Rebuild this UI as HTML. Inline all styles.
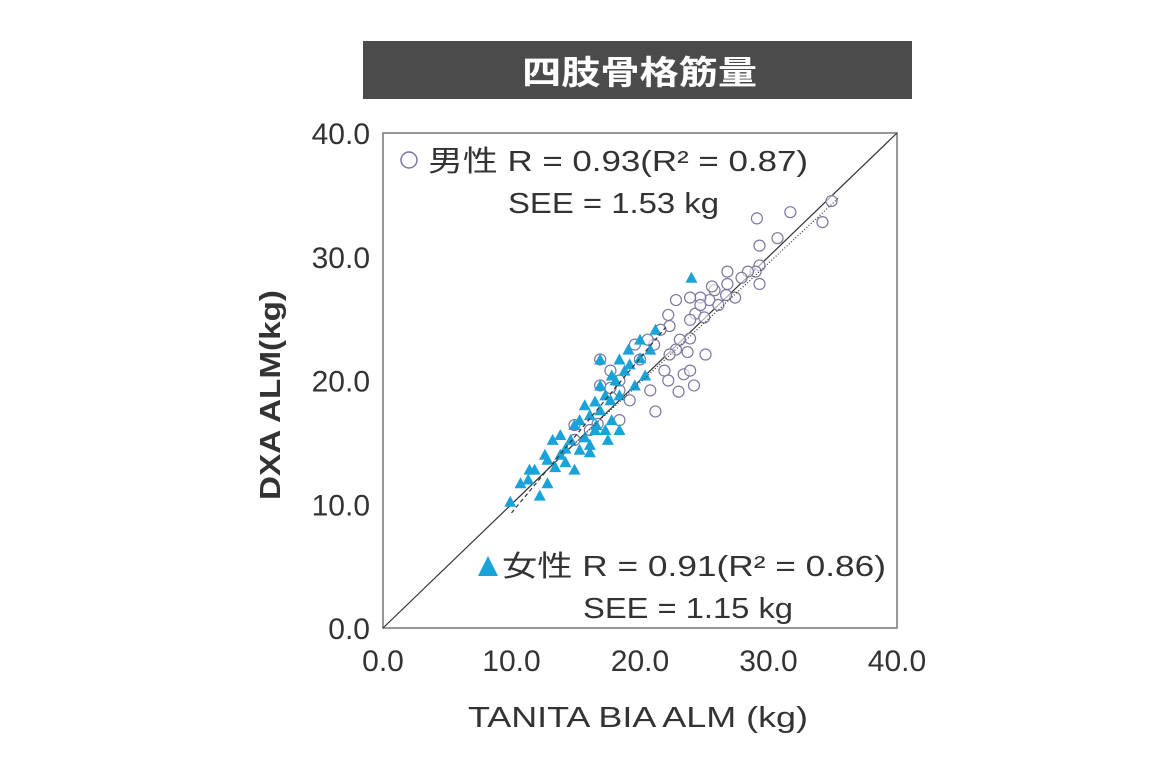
<!DOCTYPE html>
<html><head><meta charset="utf-8"><style>
body{margin:0;background:#fff;width:1160px;height:774px;overflow:hidden;font-family:"Liberation Sans","Noto Sans CJK JP",sans-serif}
</style></head><body>
<svg width="1160" height="774" viewBox="0 0 1160 774" font-family="Liberation Sans, Noto Sans CJK JP, sans-serif">
<rect x="363" y="41" width="549" height="58" fill="#4b4b4b"/>
<text x="522" y="84" textLength="235" lengthAdjust="spacingAndGlyphs" fill="#fff" font-size="33" font-weight="bold">四肢骨格筋量</text>
<rect x="383" y="133" width="514" height="495" fill="none" stroke="#777" stroke-width="1.5"/>
<g id="axes"></g>
<g id="lines"></g>
<g id="marks"></g>
<text x="280" y="500" textLength="210" lengthAdjust="spacingAndGlyphs" transform="rotate(-90 280 500)" font-size="29" fill="#333" font-weight="bold">DXA ALM(kg)</text>
<text x="468" y="727" textLength="340" lengthAdjust="spacingAndGlyphs" font-size="29" fill="#333">TANITA BIA ALM (kg)</text>
<g>
<circle cx="409" cy="160" r="8" fill="#fff" stroke="#7a78a0" stroke-width="1.5"/>
<text x="428" y="171" textLength="380" lengthAdjust="spacingAndGlyphs" font-size="29" fill="#333">男性  R = 0.93(R² = 0.87)</text>
<text x="508" y="213" textLength="211" lengthAdjust="spacingAndGlyphs" font-size="29" fill="#333">SEE = 1.53 kg</text>
</g>
<g>
<polygon points="488,556 478,576 498,576" fill="#1aa3d9"/>
<text x="502" y="576" textLength="384" lengthAdjust="spacingAndGlyphs" font-size="29" fill="#333">女性  R = 0.91(R² = 0.86)</text>
<text x="583" y="618" textLength="210" lengthAdjust="spacingAndGlyphs" font-size="29" fill="#333">SEE = 1.15 kg</text>
</g>
</svg>
<script>
const ticks=[0,10,20,30,40];
const tickLabels=["0.0","10.0","20.0","30.0","40.0"];
const maleX=[34.9,34.2,31.7,29.1,30.7,29.3,29.3,29.0,28.4,27.9,26.8,26.8,27.4,25.8,25.4,24.7,24.3,23.9,22.8,22.2,22.3,21.6,21.1,23.9,23.7,25.1,22.8,23.4,23.9,21.9,22.2,20.8,23.0,24.2,21.2,19.2,18.4,17.7,16.9,18.4,17.7,16.9,20.0,19.6,20.6,16.7,16.1,18.4,14.9,14.9,29.3,26.7,25.6,25.0,23.9,23.1,22.3,24.7,26.1];
const maleY=[34.5,32.8,33.6,33.1,31.5,30.9,29.3,28.8,28.8,28.3,28.8,27.8,26.7,27.3,26.5,26.7,25.4,26.7,26.5,25.3,24.4,24.1,22.9,23.4,22.3,22.1,22.5,20.5,20.8,20.8,20.0,19.2,19.1,19.6,17.5,18.4,19.2,19.4,19.6,20.0,20.8,21.7,21.7,22.9,23.3,16.5,16.0,16.8,16.4,15.2,27.8,26.9,27.6,25.1,24.9,23.3,22.1,26.1,26.1];
const femaleX=[9.9,10.7,11.8,12.2,12.8,13.4,12.8,13.8,14.6,14.9,14.2,15.3,15.7,16.1,16.5,15.3,16.1,16.9,16.6,17.3,17.8,18.4,17.7,16.9,18.1,18.8,19.2,20.0,20.8,21.2,20.0,18.4,17.3,16.5,15.7,14.9,13.8,12.6,11.4,11.3,16.9,17.8,19.6,20.4,24.0,19.1,18.4,17.5,16.1,14.2,13.2];
const femaleY=[10.2,11.7,12.8,10.7,11.7,13.0,13.6,14.0,15.2,12.8,14.5,14.4,15.4,14.8,16.0,16.8,17.2,17.6,16.4,16.0,16.8,16.0,18.4,19.6,20.0,20.8,21.3,21.8,22.5,24.1,23.3,18.8,18.8,18.3,18.0,16.4,15.6,14.0,12.8,12.0,21.7,20.4,19.6,20.4,28.3,22.5,21.7,15.2,14.2,13.4,15.2];
const identityLine=[0,40];
const maleFit=[[14.5,14.5],[35.5,34.8]];
const femaleFit=[[10,9.3],[22,24.3]];
const NS="http://www.w3.org/2000/svg";
const sx=v=>383+v*514/40, sy=v=>628-v*495/40;
function mk(tag,attrs,parent){const e=document.createElementNS(NS,tag);for(const k in attrs)e.setAttribute(k,attrs[k]);document.getElementById(parent).appendChild(e);return e;}
ticks.forEach((t,i)=>{
 let a=mk('text',{x:370,y:sy(t)+11,'text-anchor':'end','font-size':30,fill:'#333'},'axes');a.textContent=tickLabels[i];
 
 
 let b=mk('text',{x:sx(t),y:671,'text-anchor':'middle','font-size':30,fill:'#333'},'axes');b.textContent=tickLabels[i];
 
 
});
let l=mk('line',{x1:sx(identityLine[0]),y1:sy(identityLine[0]),x2:sx(identityLine[1]),y2:sy(identityLine[1]),stroke:'#333','stroke-width':1.2},'lines');


maleX.forEach((x,i)=>{
 const c=mk('circle',{cx:sx(x),cy:sy(maleY[i]),r:5.5,fill:'#fff','fill-opacity':0.6,stroke:'#7a78a0','stroke-width':1.2},'marks');
 
 
});
femaleX.forEach((x,i)=>{
 const X=sx(x),Y=sy(femaleY[i]);
 const p=mk('polygon',{points:`${X},${Y-6} ${X-6},${Y+5} ${X+6},${Y+5}`,fill:'#1aa3d9'},'marks');
 
 
});
let m=mk('line',{x1:sx(maleFit[0][0]),y1:sy(maleFit[0][1]),x2:sx(maleFit[1][0]),y2:sy(maleFit[1][1]),stroke:'#333','stroke-width':1.2,'stroke-dasharray':'1 2'},'marks');


let f=mk('line',{x1:sx(femaleFit[0][0]),y1:sy(femaleFit[0][1]),x2:sx(femaleFit[1][0]),y2:sy(femaleFit[1][1]),stroke:'#333','stroke-width':1.2,'stroke-dasharray':'4 3'},'marks');


</script>
</body></html>
